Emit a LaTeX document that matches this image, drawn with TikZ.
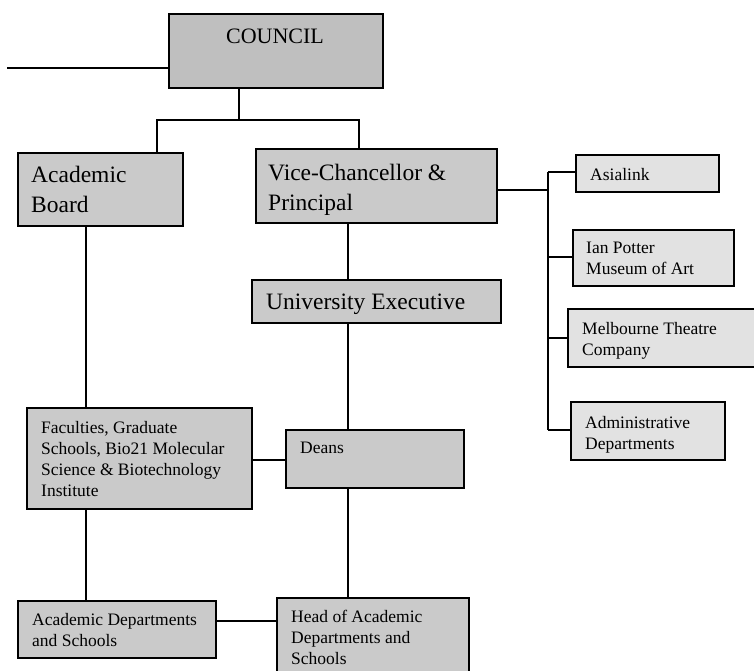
\documentclass[tikz,border=0pt]{standalone}
\usepackage{fontspec}
\setmainfont{Liberation Serif}
\definecolor{councilgray}{HTML}{BFBFBF}
\definecolor{maingray}{HTML}{CACACA}
\definecolor{sidegray}{HTML}{E2E2E2}
\begin{document}
\begin{tikzpicture}[x=1pt,y=-1pt,
  box/.style={draw=black, line width=1.8pt, rectangle, inner sep=0pt, anchor=north west, fill=maingray},
  sidebox/.style={box, fill=sidegray},
  big/.style={inner sep=0pt, anchor=base west, align=left, font=\fontsize{23.5}{30}\selectfont},
  small/.style={inner sep=0pt, anchor=base west, align=left, font=\fontsize{17.5}{21}\selectfont},
  conn/.style={draw=black, line width=1.6pt}]
\clip (0,0) rectangle (754,670);
\fill[white] (0,0) rectangle (754,670);
% boxes
\node[box, fill=councilgray, minimum width=214pt, minimum height=74pt] (council) at (168,13) {};
\node[box, minimum width=165pt, minimum height=73pt] (ab) at (17,152) {};
\node[box, minimum width=241pt, minimum height=74pt] (vc) at (255,148) {};
\node[box, minimum width=249pt, minimum height=43pt] (ue) at (251,279) {};
\node[box, minimum width=225pt, minimum height=101pt] (fac) at (26,407) {};
\node[box, minimum width=178pt, minimum height=58pt] (deans) at (285,429) {};
\node[box, minimum width=198pt, minimum height=57pt] (ad) at (17,600) {};
\node[box, minimum width=192pt, minimum height=76pt] (head) at (276,597) {};
\node[sidebox, minimum width=143pt, minimum height=37pt] (asia) at (575,154) {};
\node[sidebox, minimum width=161pt, minimum height=56pt] (ian) at (572,229) {};
\node[sidebox, minimum width=190pt, minimum height=58pt] (mel) at (567,308) {};
\node[sidebox, minimum width=154pt, minimum height=58pt] (adm) at (570,401) {};
% texts (anchored at the baseline of the last line)
\node[font=\fontsize{22}{26}\selectfont, inner sep=0pt, anchor=base] (t-council) at (275,43) {COUNCIL};
\node[big] (t-ab) at (31,212) {Academic\\Board};
\node[big] (t-vc) at (268,210) {Vice-Chancellor \&\\Principal};
\node[big] (t-ue) at (266,309) {University Executive};
\node[small] (t-fac) at (41,496) {Faculties, Graduate\\Schools, Bio21 Molecular\\Science \& Biotechnology\\Institute};
\node[small] (t-deans) at (300,453) {Deans};
\node[small] (t-ad) at (32,646) {Academic Departments\\and Schools};
\node[small] (t-head) at (291,664) {Head of Academic\\Departments and\\Schools};
\node[small] (t-asia) at (590,180) {Asialink};
\node[small] (t-ian) at (586,274) {Ian Potter\\Museum of Art};
\node[small] (t-mel) at (582,355) {Melbourne Theatre\\Company};
\node[small] (t-adm) at (585,449) {Administrative\\Departments};
% connector coordinates
\coordinate (lend) at (7,68);
\coordinate (cj) at (239,120);
\coordinate (jl) at (157,120);
\coordinate (jr) at (359,120);
\coordinate (vx) at (348,0);
\coordinate (ax) at (86,0);
\coordinate (fy) at (0,460);
\coordinate (hy) at (0,621);
\coordinate (bv) at (548,190);
\coordinate (b1) at (548,172);
\coordinate (b2) at (548,257);
\coordinate (b3) at (548,338);
\coordinate (b4) at (548,430);
% connectors
\draw[conn] (lend) -- (council.west |- lend);
\draw[conn] (council.south -| cj) -- (cj);
\draw[conn] (ab.north -| jl) -- (jl) -- (jr) -- (vc.north -| jr);
\draw[conn] (vc.south -| vx) -- (ue.north -| vx);
\draw[conn] (ue.south -| vx) -- (deans.north -| vx);
\draw[conn] (deans.south -| vx) -- (head.north -| vx);
\draw[conn] (ab.south -| ax) -- (fac.north -| ax);
\draw[conn] (fac.south -| ax) -- (ad.north -| ax);
\draw[conn] (fac.east |- fy) -- (deans.west |- fy);
\draw[conn] (ad.east |- hy) -- (head.west |- hy);
\draw[conn] (vc.east |- bv) -- (bv);
\draw[conn] (b1) -- (b4);
\draw[conn] (b1) -- (asia.west |- b1);
\draw[conn] (b2) -- (ian.west |- b2);
\draw[conn] (b3) -- (mel.west |- b3);
\draw[conn] (b4) -- (adm.west |- b4);
\end{tikzpicture}
\end{document}
